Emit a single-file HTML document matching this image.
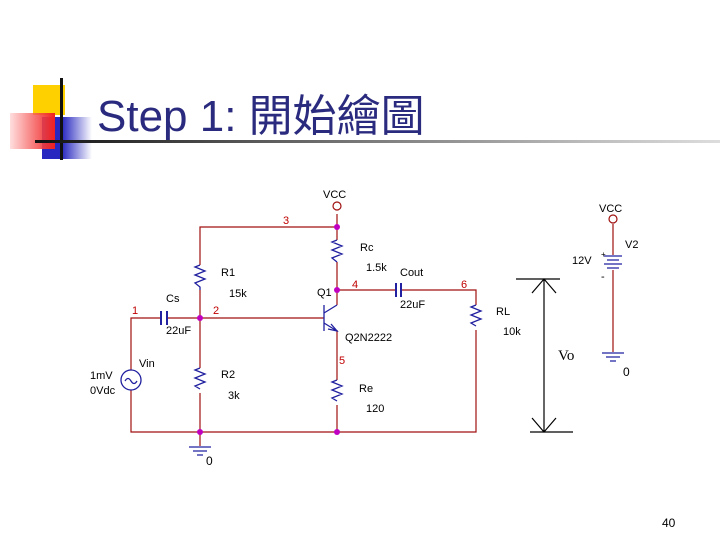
<!DOCTYPE html>
<html><head><meta charset="utf-8"><style>
body{margin:0;width:720px;height:540px;background:#fff;overflow:hidden;position:relative;font-family:"Liberation Sans",sans-serif}
.t{position:absolute;left:97px;top:80px;font-size:44px;color:#2a2a7e;font-family:"Liberation Sans","Noto Sans CJK TC",sans-serif;white-space:nowrap}
</style></head><body>
<div style="position:absolute;left:33px;top:85px;width:32px;height:30px;background:#ffd000"></div>
<div style="position:absolute;left:42px;top:117px;width:50px;height:42px;background:linear-gradient(90deg,#2828c0 40%,rgba(60,60,200,0))"></div>
<div style="position:absolute;left:10px;top:113px;width:45px;height:36px;background:linear-gradient(90deg,rgba(255,200,200,0.6),#f02020)"></div>
<div style="position:absolute;left:60px;top:78px;width:3px;height:82px;background:#111"></div>
<div style="position:absolute;left:35px;top:140px;width:685px;height:3px;background:linear-gradient(90deg,#111,#555 30%,#bbb 80%,#ddd)"></div>
<div class="t">Step 1: 開始繪圖</div>
<svg width="720" height="540" style="position:absolute;left:0;top:0" font-family="Liberation Sans, sans-serif" font-size="11">
<g stroke="#a01010" stroke-width="1.2" fill="none">
<path d="M200,265V227H337V214M337,227V240M337,262V305M337,290H396M401,290H476V305M476,330V432H131V390M131,370V318H161M167,318H324M200,290V368M200,393V432M337,330V380M337,405V432M200,432V446M613,224V255M613,270V352"/>
<circle cx="337" cy="206" r="4"/><circle cx="613" cy="219" r="4"/>
</g>
<g stroke="#2020a0" stroke-width="1.3" fill="none">
<path d="M337,240l-5,2l10,4l-10,4l10,4l-10,4l5,4M200,265l-5,2l10,4l-10,4l10,4l-10,4l5,4l0,3M200,368l-5,2l10,4l-10,4l10,4l-10,4l5,3M337,380l-5,2l10,4l-10,4l10,4l-10,4l5,3M476,305l-5,2l10,4l-10,4l10,4l-10,4l5,3"/>
<path d="M161,311V325M167,311V325M396,283V297M401,283V297" stroke-width="2"/>
<path d="M324,305V331M324,313L337,305M324,323L337,331M331,324l6,7l-9,-2"/>
<circle cx="131" cy="380" r="10"/><path d="M125,381q3,-5 6,0q3,5 6,0"/>
<path d="M604,256H622M607,260H619M604,264H622M607,268H619"/>
<path d="M189,447H211M193,451H207M197,455H203M602,353H624M606,357H620M610,361H616"/>
</g>
<g fill="#c000c0"><circle cx="337" cy="227" r="3"/><circle cx="337" cy="290" r="3"/><circle cx="200" cy="318" r="3"/><circle cx="200" cy="432" r="3"/><circle cx="337" cy="432" r="3"/></g>
<g stroke="#000" stroke-width="1.2" fill="none">
<path d="M516,279H560M530,432H573M544,279V432M532,293L544,279L556,293M532,418L544,432L556,418"/>
</g>
<g fill="#c00000"><text x="283" y="224">3</text><text x="352" y="288">4</text><text x="461" y="288">6</text><text x="132" y="314">1</text><text x="213" y="314">2</text><text x="339" y="364">5</text></g>
<g fill="#000"><text x="323" y="198">VCC</text><text x="360" y="251">Rc</text><text x="366" y="271">1.5k</text><text x="400" y="276">Cout</text><text x="400" y="308">22uF</text><text x="221" y="276">R1</text><text x="229" y="297">15k</text><text x="317" y="296">Q1</text><text x="166" y="302">Cs</text><text x="166" y="334">22uF</text><text x="345" y="341">Q2N2222</text><text x="139" y="367">Vin</text><text x="90" y="379">1mV</text><text x="90" y="394">0Vdc</text><text x="221" y="378">R2</text><text x="228" y="399">3k</text><text x="359" y="392">Re</text><text x="366" y="412">120</text><text x="206" y="465" font-size="12">0</text><text x="496" y="315">RL</text><text x="503" y="335">10k</text><text x="599" y="212">VCC</text><text x="625" y="248">V2</text><text x="572" y="264">12V</text><text x="601" y="257" font-size="8">+</text><text x="601" y="280">-</text><text x="623" y="376" font-size="12">0</text><text x="558" y="360" font-size="15" font-family="Liberation Serif, serif">Vo</text><text x="662" y="527" font-size="12">40</text></g>
</svg>
</body></html>
